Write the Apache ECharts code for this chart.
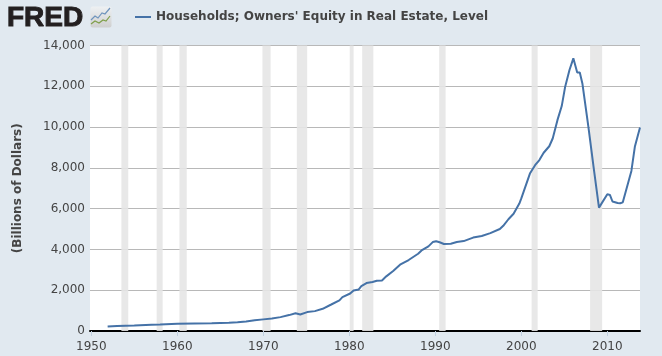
<!DOCTYPE html>
<html>
<head>
<meta charset="utf-8">
<style>
  html, body { margin: 0; padding: 0; background: #e1e9f0; }
  #chart { width: 662px; height: 356px; }
</style>
<script src="https://cdn.jsdelivr.net/npm/echarts@6/dist/echarts.min.js"></script>
</head>
<body>
<div id="chart"></div>
<script>
var seriesName = "Households; Owners' Equity in Real Estate, Level";
var yAxisName = '(Billions of Dollars)';

var years = [1951.9, 1953, 1955, 1957, 1958, 1960, 1962, 1964, 1966, 1967, 1968, 1969, 1970, 1971, 1972, 1973,
  1973.75, 1974.3, 1975.1, 1976, 1976.9, 1977.9, 1978.85, 1979.2, 1980.1, 1980.5, 1981.1, 1981.4, 1982, 1982.7,
  1983.2, 1983.8, 1984.3, 1985.1, 1985.9, 1986.9, 1988, 1988.4, 1989.2, 1989.7, 1990.1, 1990.5, 1991, 1991.8,
  1992.5, 1993.3, 1994.4, 1995.4, 1996.4, 1997.5, 1997.9, 1998.5, 1999.1, 1999.77, 2000, 2001, 2001.6, 2002.1,
  2002.6, 2003.25, 2003.65, 2004.2, 2004.7, 2005.1, 2005.6, 2006.05, 2006.5, 2006.8, 2007.1, 2007.8, 2008.4,
  2009.03, 2009.2, 2010, 2010.3, 2010.6, 2010.8, 2011.2, 2011.5, 2011.8, 2011.9, 2012.8, 2013.2, 2013.8];
var equity = [220, 250, 270, 310, 320, 350, 370, 385, 405, 430, 470, 530, 570, 610, 680, 780,
  870, 810, 926, 975, 1090, 1300, 1500, 1660, 1840, 1990, 2040, 2200, 2350, 2400,
  2465, 2480, 2680, 2940, 3250, 3480, 3790, 3950, 4150, 4360, 4400, 4350, 4265, 4280,
  4360, 4410, 4580, 4660, 4800, 5000, 5160, 5480, 5750, 6250, 6500, 7720, 8130, 8380,
  8740, 9060, 9440, 10340, 11030, 11980, 12800, 13370, 12680, 12680, 12140, 10010, 8050,
  6050, 6080, 6710, 6670, 6350, 6410, 6280, 6265, 6310, 6230, 7850, 9030, 9980];

var recessionStart = [1953.5, 1957.6, 1960.25, 1969.9, 1973.9, 1980.05, 1981.5, 1990.45, 2001.2, 2008.0];
var recessionEnd = [1954.3, 1958.3, 1961.1, 1970.85, 1975.1, 1980.5, 1982.8, 1991.2, 2001.9, 2009.4];

var xTicks = [1950, 1960, 1970, 1980, 1990, 2000, 2010];

var chart = echarts.init(document.getElementById('chart'));
var font = '"DejaVu Sans", sans-serif';

chart.setOption({
  animation: false,
  backgroundColor: '#e1e9f0',
  textStyle: { fontFamily: font },
  grid: { left: 90, right: 22, top: 45.5, bottom: 25, show: true, backgroundColor: '#fff', borderWidth: 0 },
  legend: {
    data: [seriesName],
    left: 130,
    top: 6,
    icon: 'rect',
    itemWidth: 16,
    itemHeight: 2,
    itemGap: 5,
    textStyle: { fontFamily: font, fontWeight: 'bold', fontSize: 12, color: '#444' }
  },
  xAxis: {
    type: 'value',
    min: 1949.85,
    max: 2013.8,
    splitLine: { show: false },
    axisLine: { show: true, onZero: false, lineStyle: { color: '#000', width: 2 } },
    axisTick: { show: true, length: 5, customValues: xTicks, lineStyle: { color: '#c0d0e0', width: 1 } },
    axisLabel: {
      customValues: xTicks,
      color: '#444',
      fontSize: 12,
      margin: 10,
      formatter: function (v) { return String(v); }
    }
  },
  yAxis: {
    type: 'value',
    min: 0,
    max: 14000,
    interval: 2000,
    name: yAxisName,
    nameLocation: 'middle',
    nameGap: 66,
    nameTextStyle: { fontFamily: font, fontWeight: 'bold', fontSize: 12, color: '#444' },
    axisLine: { show: false },
    axisTick: { show: false },
    axisLabel: {
      color: '#444',
      fontSize: 12,
      margin: 5,
      padding: [3, 0, 0, 0],
      formatter: function (v) { return v.toLocaleString('en-US'); }
    },
    splitLine: { lineStyle: { color: '#b8b8b8', width: 1 } }
  },
  series: [
    {
      name: 'Recessions',
      type: 'line',
      data: [],
      silent: true,
      markArea: {
        silent: true,
        itemStyle: { color: '#e5e5e5', opacity: 0.9 },
        data: recessionStart.map(function (s, i) {
          return [{ xAxis: s }, { xAxis: recessionEnd[i] }];
        })
      }
    },
    {
      name: seriesName,
      type: 'line',
      symbol: 'none',
      color: '#4572a7',
      lineStyle: { width: 2, color: '#4572a7' },
      data: years.map(function (y, i) { return [y, equity[i]]; })
    }
  ],
  graphic: [
    {
      type: 'text', left: 6.5, top: 4,
      style: { text: 'FRED', font: 'bold 28px "Liberation Sans", sans-serif', fill: '#231f20', stroke: '#231f20', lineWidth: 1 }
    },
    {
      type: 'rect', shape: { x: 90.5, y: 6.5, width: 21, height: 21, r: 2 },
      style: { fill: new echarts.graphic.LinearGradient(0, 0, 0, 1, [
        { offset: 0, color: '#eef1f3' },
        { offset: 1, color: '#cfcfcf' }
      ]) }
    },
    {
      type: 'polyline',
      shape: { points: [[91, 20], [95, 16], [98, 18], [102, 13], [105, 14], [110, 8]] },
      style: { fill: 'none', stroke: '#6f94bd', lineWidth: 1.2 }
    },
    {
      type: 'polyline',
      shape: { points: [[91, 24], [95, 21], [99, 23], [103, 20], [106, 21], [110, 16]] },
      style: { fill: 'none', stroke: '#7f9f4a', lineWidth: 1.2 }
    }
  ]
});
</script>
</body>
</html>
